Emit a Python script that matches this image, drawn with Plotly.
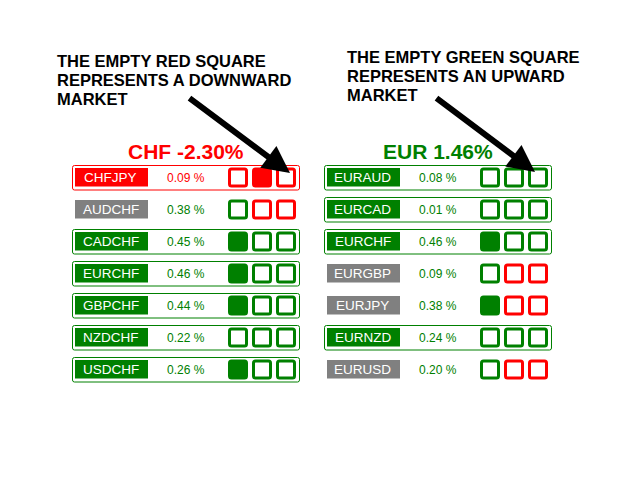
"""Currency strength panel: CHF vs EUR pairs with trend squares."""

import plotly.graph_objects as go

# --- data -------------------------------------------------------------
left_title = "CHF -2.30%"
left_title_state = "down"
left_pairs = ["CHFJPY", "AUDCHF", "CADCHF", "EURCHF", "GBPCHF", "NZDCHF", "USDCHF"]
left_pct = [0.09, 0.38, 0.45, 0.46, 0.44, 0.22, 0.26]
left_state = ["down", "flat", "up", "up", "up", "up", "up"]
left_squares = [
    ["r-", "r+", "r-"],
    ["g-", "r-", "r-"],
    ["g+", "g-", "g-"],
    ["g+", "g-", "g-"],
    ["g+", "g-", "g-"],
    ["g-", "g-", "g-"],
    ["g+", "g-", "g-"],
]

right_title = "EUR 1.46%"
right_title_state = "up"
right_pairs = ["EURAUD", "EURCAD", "EURCHF", "EURGBP", "EURJPY", "EURNZD", "EURUSD"]
right_pct = [0.08, 0.01, 0.46, 0.09, 0.38, 0.24, 0.20]
right_state = ["up", "up", "up", "flat", "flat", "up", "flat"]
right_squares = [
    ["g-", "g-", "g-"],
    ["g-", "g-", "g-"],
    ["g+", "g-", "g-"],
    ["g-", "r-", "r-"],
    ["g+", "r-", "r-"],
    ["g-", "g-", "g-"],
    ["g-", "r-", "r-"],
]

left_note = ["THE EMPTY RED SQUARE", "REPRESENTS A DOWNWARD", "MARKET"]
right_note = ["THE EMPTY GREEN SQUARE", "REPRESENTS AN UPWARD", "MARKET"]

# --- style ------------------------------------------------------------
RED = "#ff0000"
GREEN = "#008000"
GRAY = "#808080"
STATE_COLOR = {"down": RED, "up": GREEN, "flat": GRAY}
SQ_COLOR = {"r": RED, "g": GREEN}
FONT = "Arial, Liberation Sans, sans-serif"

ROW0 = 177.5
PITCH = 32
PAGE_PAD = 8  # default body margin of the html page

shapes = []
annotations = []


def rounded_rect(x0, y0, x1, y1, r):
    return (
        f"M{x0 + r},{y0} L{x1 - r},{y0} Q{x1},{y0} {x1},{y0 + r} "
        f"L{x1},{y1 - r} Q{x1},{y1} {x1 - r},{y1} L{x0 + r},{y1} "
        f"Q{x0},{y1} {x0},{y1 - r} L{x0},{y0 + r} Q{x0},{y0} {x0 + r},{y0} Z"
    )


def add_panel(x_off, title, title_state, pairs, pcts, states, squares):
    annotations.append(dict(
        x=x_off + 185.5, y=151.5, text=f"<b>{title}</b>", showarrow=False,
        font=dict(family=FONT, size=21, color=STATE_COLOR[title_state]),
        xanchor="center", yanchor="middle",
    ))
    for i, pair in enumerate(pairs):
        yc = ROW0 + i * PITCH
        col = STATE_COLOR[states[i]]
        if states[i] != "flat":
            shapes.append(dict(
                type="path", path=rounded_rect(x_off + 72.5, yc - 12, x_off + 299.5, yc + 12.5, 2),
                line=dict(color=col, width=1), fillcolor="rgba(0,0,0,0)",
            ))
        shapes.append(dict(
            type="rect", x0=x_off + 75, x1=x_off + 148, y0=yc - 9.5, y1=yc + 9,
            line=dict(width=0), fillcolor=col,
        ))
        annotations.append(dict(
            x=x_off + 110.5, y=yc, text=pair, showarrow=False,
            font=dict(family=FONT, size=13.5, color="white"),
            xanchor="center", yanchor="middle",
        ))
        pct_col = RED if states[i] == "down" else GREEN
        annotations.append(dict(
            x=x_off + 186, y=yc, text=f"{pcts[i]:.2f} %", showarrow=False,
            font=dict(family=FONT, size=12, color=pct_col),
            xanchor="center", yanchor="middle",
        ))
        for j, sq in enumerate(squares[i]):
            xc = x_off + 238 + j * 24
            c = SQ_COLOR[sq[0]]
            filled = sq[1] == "+"
            shapes.append(dict(
                type="path", path=rounded_rect(xc - 8.5, yc - 8.5, xc + 8.5, yc + 8.5, 2),
                line=dict(color=c, width=3),
                fillcolor=c if filled else "white",
            ))


add_panel(0, left_title, left_title_state, left_pairs, left_pct, left_state, left_squares)
add_panel(252, right_title, right_title_state, right_pairs, right_pct, right_state, right_squares)

# notes with arrows
for x0, y_first, lines in [(55, 61, left_note), (345, 56.5, right_note)]:
    for k, line in enumerate(lines):
        annotations.append(dict(
            x=x0, y=y_first + k * 19, text=f"<b>{line}</b>", showarrow=False,
            font=dict(family=FONT, size=16.5, color="black"),
            xanchor="left", yanchor="middle",
        ))

for tail, tip in [((188, 97), (290, 173)), ((435, 97), (535, 172))]:
    annotations.append(dict(
        x=tip[0], y=tip[1], ax=tail[0], ay=tail[1], axref="x", ayref="y",
        text="", showarrow=True, arrowhead=2, arrowsize=0.9, arrowwidth=6,
        arrowcolor="black", standoff=0,
    ))

fig = go.Figure()
fig.update_layout(
    width=640, height=480,
    margin=dict(l=0, r=0, t=0, b=0),
    paper_bgcolor="white", plot_bgcolor="white",
    xaxis=dict(range=[PAGE_PAD, 640 + PAGE_PAD], visible=False, fixedrange=True),
    yaxis=dict(range=[480 + PAGE_PAD, PAGE_PAD], visible=False, fixedrange=True),
    shapes=shapes, annotations=annotations, showlegend=False,
)
fig.write_html("out.html")
